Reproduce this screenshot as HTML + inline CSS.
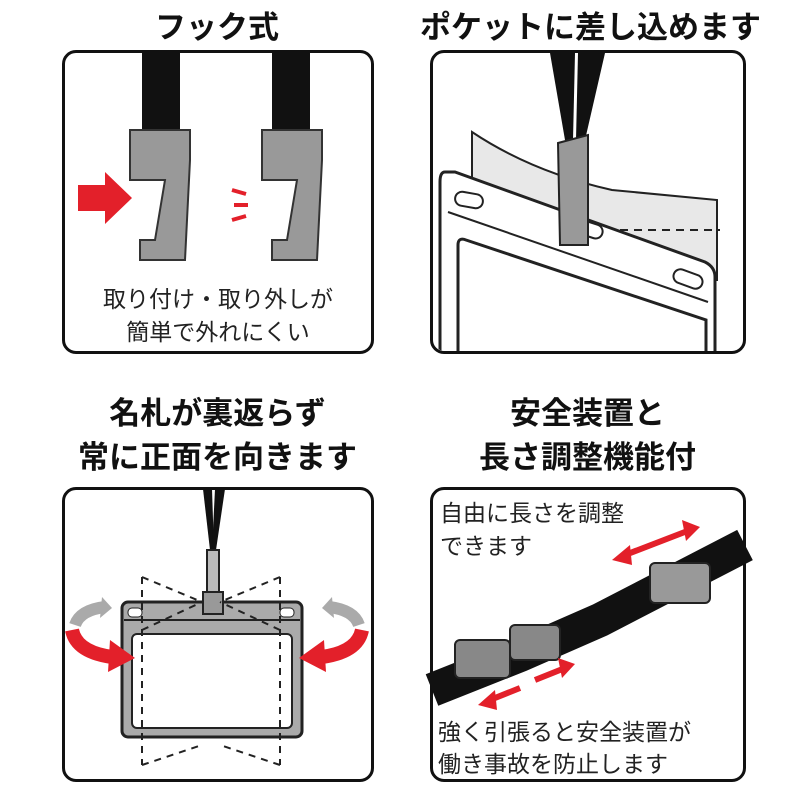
<!DOCTYPE html>
<html><head><meta charset="utf-8"><style>
body{margin:0;width:800px;height:800px;background:#fff;overflow:hidden;position:relative;font-family:"Liberation Sans","Noto Sans CJK JP",sans-serif;}
.t{position:absolute;font-weight:bold;font-size:31px;color:#111;text-align:center;white-space:nowrap;}
.p{position:absolute;border:3px solid #111;border-radius:14px;box-sizing:border-box;background:#fff;overflow:hidden;}
.s{position:absolute;font-size:23px;color:#222;white-space:nowrap;text-align:center;}
svg{position:absolute;left:0;top:0;}
</style></head><body>
<div class="t" style="left:62px;width:310px;top:2px">フック式</div>
<div class="t" style="left:420px;width:335px;top:2px">ポケットに差し込めます</div>
<div class="t" style="left:50px;width:335px;top:392px;line-height:44px">名札が裏返らず<br>常に正面を向きます</div>
<div class="t" style="left:420px;width:335px;top:392px;line-height:44px">安全装置と<br>長さ調整機能付</div>
<div class="p" style="left:62px;top:50px;width:312px;height:304px"></div>
<div class="p" style="left:430px;top:50px;width:316px;height:304px"></div>
<div class="p" style="left:62px;top:487px;width:312px;height:295px"></div>
<div class="p" style="left:430px;top:487px;width:316px;height:295px"></div>
<svg width="800" height="800">
<defs><clipPath id="c2"><rect x="433" y="53" width="310" height="298" rx="12"/></clipPath></defs>
<!-- top-left -->
<rect x="142" y="52" width="38" height="82" fill="#111"/>
<rect x="272" y="52" width="38" height="82" fill="#111"/>
<path d="M130 130h60v30l-5 100h-45v-20h15l10-60h-35z" fill="#999" stroke="#333" stroke-width="2"/>
<path d="M262 130h60v30l-5 100h-45v-20h15l10-60h-35z" fill="#999" stroke="#333" stroke-width="2"/>
<polygon points="78,185 105,185 105,172 132,198 105,224 105,211 78,211" fill="#e3202a"/>
<path d="M232 190l14 4M234 205l14 0M232 220l14-4" stroke="#e3202a" stroke-width="4"/>
<!-- top-right -->
<g clip-path="url(#c2)">
<path d="M472 132q60 40 140 58l105 10v80h-245z" fill="#e8e8e8" stroke="#222" stroke-width="2"/>
<path d="M620 230h100" stroke="#222" stroke-width="2" stroke-dasharray="8,6"/>
<path d="M445 172h10l250 90q10 5 10 15v80h-275v-175q0-10 5-10z" fill="#fff" stroke="#222" stroke-width="3"/>
<path d="M448 212l260 90" stroke="#222" stroke-width="2"/>
<path d="M458 245q0-8 8-5l240 80v40h-248z" fill="#fff" stroke="#222" stroke-width="3"/>
<rect x="455" y="193" width="28" height="14" rx="7" fill="#fff" stroke="#222" stroke-width="2" transform="rotate(10 469 200)"/>
<rect x="573" y="222" width="30" height="14" rx="7" fill="#fff" stroke="#222" stroke-width="2" transform="rotate(18 588 229)"/>
<rect x="673" y="272" width="30" height="14" rx="7" fill="#fff" stroke="#222" stroke-width="2" transform="rotate(20 688 279)"/>
<polygon points="550,53 575,53 573,140 565,140" fill="#111"/>
<polygon points="578,53 605,53 585,140 576,140" fill="#111"/>
<path d="M558 143l30-8v110h-28z" fill="#999" stroke="#222" stroke-width="2"/>
</g>
<!-- bottom-left -->
<polygon points="203,489 212,489 214,550 210,550" fill="#111"/>
<polygon points="215,489 225,489 216,550 212,550" fill="#111"/>
<rect x="122" y="602" width="180" height="135" rx="6" fill="#aaa" stroke="#222" stroke-width="3"/>
<path d="M124 620h176" stroke="#222" stroke-width="2"/>
<rect x="132" y="634" width="160" height="94" rx="5" fill="#fff" stroke="#222" stroke-width="2"/>
<rect x="128" y="608" width="14" height="9" rx="4" fill="#fff" stroke="#222"/>
<rect x="280" y="608" width="14" height="9" rx="4" fill="#fff" stroke="#222"/>
<rect x="207" y="550" width="12" height="45" fill="#bbb" stroke="#222" stroke-width="2"/>
<rect x="203" y="592" width="20" height="22" fill="#999" stroke="#222" stroke-width="2"/>
<path d="M142 577v188M280 577v188M142 577l60 25M280 577l-60 25M142 630l60-28M280 630l-60-28M142 765l60-20M280 765l-60-20" stroke="#222" stroke-width="2" stroke-dasharray="7,6" fill="none"/>
<path d="M72 630q5 25 50 28" stroke="#e3202a" stroke-width="14" fill="none"/>
<polygon points="110,640 135,658 108,672" fill="#e3202a"/>
<path d="M362 630q-5 25-50 28" stroke="#e3202a" stroke-width="14" fill="none"/>
<polygon points="324,640 299,658 326,672" fill="#e3202a"/>
<path d="M75 625q5-15 30-18M359 625q-5-15-30-18" stroke="#aaa" stroke-width="12" fill="none"/>
<polygon points="102,597 112,608 100,618" fill="#aaa"/><polygon points="332,597 322,608 334,618" fill="#aaa"/>
<!-- bottom-right -->
<path d="M432 690L520 655 L600 620 L745 545" stroke="#111" stroke-width="34" fill="none"/>
<rect x="455" y="640" width="55" height="38" rx="5" fill="#888" stroke="#222" stroke-width="2"/>
<rect x="510" y="625" width="50" height="35" rx="5" fill="#888" stroke="#222" stroke-width="2"/>
<rect x="650" y="563" width="60" height="40" rx="5" fill="#999" stroke="#222" stroke-width="2"/>
<path d="M625 555l65-25" stroke="#e3202a" stroke-width="6"/>
<polygon points="612,560 630,545 632,565" fill="#e3202a"/><polygon points="700,527 682,520 686,541" fill="#e3202a"/>
<path d="M490 700l30-12M535 680l30-12" stroke="#e3202a" stroke-width="6"/>
<polygon points="478,705 495,690 497,710" fill="#e3202a"/><polygon points="575,664 558,658 562,678" fill="#e3202a"/>
</svg>
<div class="s" style="left:62px;width:312px;top:283px;line-height:33px">取り付け・取り外しが<br>簡単で外れにくい</div>
<div class="s" style="left:440px;top:497px;line-height:33px;text-align:left">自由に長さを調整<br>できます</div>
<div class="s" style="left:438px;top:716px;line-height:32px;text-align:left">強く引張ると安全装置が<br>働き事故を防止します</div>
</body></html>
